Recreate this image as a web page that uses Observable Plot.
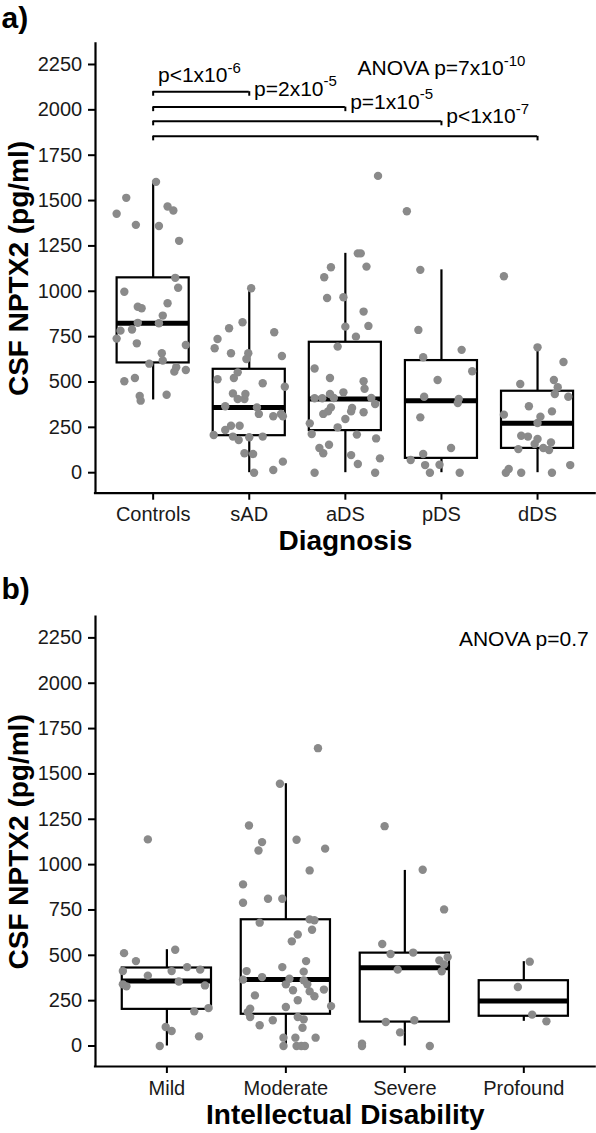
<!DOCTYPE html>
<html>
<head>
<meta charset="utf-8">
<script src="https://cdn.jsdelivr.net/npm/d3@7"></script>
<script src="https://cdn.jsdelivr.net/npm/@observablehq/plot@0.6"></script>
<style>
  body { margin: 0; background: #fff; }
  #chart { width: 596px; }
  #chart svg { display: block; }
</style>
</head>
<body>
<div id="chart"></div>
<script>
// ---------- data ----------
const diagnosisCategories = ["Controls", "sAD", "aDS", "pDS", "dDS"];
const disabilityCategories = ["Mild", "Moderate", "Severe", "Profound"];
const yTicks = [0, 250, 500, 750, 1000, 1250, 1500, 1750, 2000, 2250];

// individual points (value) and horizontal jitter (in category units)
const controlsValues = [1603,1515,1427,1366,1360,1467,1445,1278,1074,1019,997,934,915,906,866,826,824,783,789,739,713,704,658,618,601,581,557,566,504,522,423,397,430];
const controlsJitter = [0.03,-0.28,-0.38,-0.18,0.06,0.15,0.21,0.27,0.23,0.26,-0.30,0.15,-0.16,-0.12,0.10,-0.16,0.06,-0.34,-0.22,-0.38,-0.17,0.34,0.09,0.10,-0.04,0.24,0.22,0.34,-0.30,-0.19,-0.14,-0.13,0.14];
const sADValues = [1017,796,829,737,686,774,658,658,627,643,515,553,522,493,474,437,406,406,434,366,360,324,311,324,311,259,259,235,208,199,180,195,199,107,103,61,15,0];
const sADJitter = [0.02,-0.21,-0.07,-0.33,-0.36,0.26,-0.19,-0.01,-0.03,0.34,-0.33,-0.12,-0.16,0.14,0.37,-0.17,-0.12,-0.05,-0.04,-0.25,0.08,0.10,0.25,0.33,0.35,-0.19,-0.10,-0.25,-0.37,-0.17,-0.11,0.00,0.14,-0.05,0.04,0.35,0.25,0.05];
const aDSValues = [1636,1209,1209,1132,1136,1077,963,967,888,805,809,750,695,574,522,504,463,410,410,434,412,443,412,379,360,357,338,333,338,324,296,250,272,213,210,189,154,136,107,97,79,48,0,0];
const aDSJitter = [0.34,0.13,0.16,-0.15,0.22,-0.22,-0.19,-0.02,0.19,0.00,0.24,0.11,-0.08,-0.32,-0.16,0.19,0.20,-0.32,-0.24,-0.16,-0.12,-0.02,0.27,0.31,-0.15,0.07,0.06,0.19,-0.18,-0.23,0.00,-0.08,-0.37,-0.35,0.12,0.32,-0.17,-0.27,-0.23,0.06,0.36,0.13,-0.32,0.31];
const pDSValues = [1441,1118,787,677,636,559,511,419,406,384,305,136,103,70,42,44,0,0];
const pDSJitter = [-0.36,-0.22,-0.24,0.21,-0.19,0.32,-0.04,-0.18,0.18,0.17,-0.22,0.10,-0.19,-0.32,-0.17,-0.02,-0.12,0.19];
const dDSValues = [1083,691,610,489,511,471,434,419,366,338,320,309,274,204,199,186,158,167,136,125,130,42,0,20,0,0];
const dDSJitter = [-0.35,0.00,0.27,-0.18,0.17,0.21,0.18,0.32,-0.09,0.15,-0.35,0.03,0.00,-0.17,-0.10,0.00,-0.03,0.14,0.06,0.12,-0.20,0.34,-0.33,-0.30,-0.17,0.15];

const mildValues = [1139,512,468,531,413,388,413,435,421,356,340,329,334,209,191,105,83,53,0];
const mildJitter = [-0.16,-0.36,-0.26,0.07,-0.37,-0.16,0.04,0.17,0.28,0.10,-0.37,-0.34,0.32,0.35,0.23,-0.01,0.04,0.27,-0.06];
const moderateValues = [1642,1446,1216,1124,1078,1137,1088,968,891,790,812,812,680,698,693,641,615,577,468,435,413,410,366,380,371,340,362,340,307,301,274,311,279,252,215,220,206,187,160,142,114,160,147,101,46,46,46,0,0,0,0];
const moderateJitter = [0.27,-0.05,-0.31,-0.20,-0.23,0.09,0.33,0.20,-0.36,-0.36,-0.15,-0.03,-0.22,0.20,0.24,0.22,0.10,0.05,0.17,-0.03,-0.33,0.15,-0.36,-0.20,0.03,0.00,0.15,0.18,0.06,0.20,0.24,0.32,-0.26,0.10,0.00,0.38,-0.30,-0.32,-0.30,-0.11,-0.22,0.10,0.15,0.14,-0.02,0.08,0.25,-0.02,0.09,0.13,0.16];
const severeValues = [1212,972,753,562,507,515,490,472,450,412,421,132,142,75,13,0,0];
const severeJitter = [-0.17,0.15,0.33,-0.19,-0.12,0.07,0.36,0.29,0.33,0.31,-0.06,-0.16,0.08,-0.04,-0.36,-0.36,0.21];
const profoundValues = [465,325,173,136];
const profoundJitter = [0.05,-0.05,0.07,0.19];

// box-plot summaries (whisker low, Q1, median, Q3, whisker high)
const diagnosisLow = [401, 0, 0, 0, 0];
const diagnosisQ1 = [605, 204, 232, 79, 134];
const diagnosisMedian = [824, 360, 406, 397, 272];
const diagnosisQ3 = [1074, 570, 719, 618, 449];
const diagnosisHigh = [1603, 1017, 1209, 1118, 691];

const disabilityLow = [0, 0, 0, 136];
const disabilityQ1 = [202, 175, 132, 164];
const disabilityMedian = [358, 366, 432, 248];
const disabilityQ3 = [430, 696, 512, 360];
const disabilityHigh = [531, 1446, 968, 465];

// pairwise comparison brackets (panel a)
const bracketFrom = ["Controls", "Controls", "Controls", "Controls"];
const bracketTo = ["sAD", "aDS", "pDS", "dDS"];
const bracketY = [2100, 2015, 1937, 1854];
const bracketLabels = ["p<1x10^-6", "p=2x10^-5", "p=1x10^-5", "p<1x10^-7"];
const bracketLabelX = [1.05, 2.05, 3.05, 4.05];
const bracketLabelY = [2152, 2079, 2006, 1926];

const anovaLabels = ["ANOVA p=7x10^-10", "ANOVA p=0.7"];
const anovaX = [4, 4];
const anovaY = [2190, 2205];

const panelTags = ["a)", "b)"];
const xTitles = ["Diagnosis", "Intellectual Disability"];
const yTitle = "CSF NPTX2 (pg/ml)";

// ---------- helpers ----------
const FONT = "'Liberation Sans', Arial, Helvetica, sans-serif";
const TIP = 25;

function pointTable(cats, values, jitters) {
  return cats.flatMap((c, i) => values[i].map((v, j) => ({cat: c, pos: i + 1 + jitters[i][j], value: v})));
}
function boxTable(cats, lo, q1, med, q3, hi) {
  return cats.map((c, i) => ({cat: c, pos: i + 1, x1: i + 1 - 0.375, x2: i + 1 + 0.375,
    lo: lo[i], q1: q1[i], med: med[i], q3: q3[i], hi: hi[i]}));
}

function panel({cats, points, boxes, tag, xTitle, height, marginTop, marginBottom, tagDy, extra}) {
  const n = cats.length;
  return Plot.plot({
    width: 596,
    height,
    marginTop,
    marginBottom,
    marginLeft: 95,
    marginRight: 1.3,
    style: {fontFamily: FONT, fontSize: "20px", color: "#1a1a1a", background: "white", overflow: "visible"},
    x: {domain: [0.4, n + 0.6], axis: null},
    y: {domain: [-113, 2364], axis: null},
    marks: [
      Plot.axisY({ticks: yTicks, tickFormat: d => String(d), tickSize: 7, tickPadding: 6.3,
        strokeWidth: 2, stroke: "#000", fill: "#1a1a1a", fontSize: 20, label: null}),
      Plot.axisX({ticks: d3.range(1, n + 1), tickFormat: i => cats[i - 1], tickSize: 7, tickPadding: 6.8,
        strokeWidth: 2, stroke: "#000", fill: "#1a1a1a", fontSize: 20, label: null}),
      Plot.ruleX([0.4], {stroke: "#000", strokeWidth: 2.2, strokeLinecap: "square"}),
      Plot.ruleY([-113], {stroke: "#000", strokeWidth: 2.2, strokeLinecap: "square"}),
      // whiskers
      Plot.ruleX(boxes, {x: "pos", y1: "lo", y2: "q1", stroke: "#000", strokeWidth: 2.2}),
      Plot.ruleX(boxes, {x: "pos", y1: "q3", y2: "hi", stroke: "#000", strokeWidth: 2.2}),
      // boxes
      Plot.rect(boxes, {x1: "x1", x2: "x2", y1: "q1", y2: "q3", fill: "white", stroke: "#000", strokeWidth: 2.2}),
      Plot.ruleY(boxes, {y: "med", x1: "x1", x2: "x2", stroke: "#000", strokeWidth: 5}),
      // jittered points
      Plot.dot(points, {x: "pos", y: "value", r: 4.2, fill: "#8a8a8a", stroke: "none"}),
      ...extra,
      // titles
      Plot.text([tag], {frameAnchor: "top-left", dx: -94, dy: tagDy, textAnchor: "start", lineAnchor: "bottom",
        fontSize: 30, fontWeight: "bold", fill: "#000"}),
      Plot.text([xTitle], {frameAnchor: "bottom", dy: 57, textAnchor: "middle", lineAnchor: "bottom",
        fontSize: 28, fontWeight: "bold", fill: "#000"}),
      Plot.text([yTitle], {frameAnchor: "left", dx: -67.5, rotate: -90, textAnchor: "middle", lineAnchor: "bottom",
        fontSize: 28, fontWeight: "bold", fill: "#000"})
    ]
  });
}

// ---------- panel a ----------
const diagPoints = pointTable(diagnosisCategories,
  [controlsValues, sADValues, aDSValues, pDSValues, dDSValues],
  [controlsJitter, sADJitter, aDSJitter, pDSJitter, dDSJitter]);
const diagBoxes = boxTable(diagnosisCategories, diagnosisLow, diagnosisQ1, diagnosisMedian, diagnosisQ3, diagnosisHigh);
const brackets = bracketTo.map((to, i) => ({
  x1: diagnosisCategories.indexOf(bracketFrom[i]) + 1,
  x2: diagnosisCategories.indexOf(to) + 1,
  y: bracketY[i], yTip: bracketY[i] - TIP,
  label: bracketLabels[i], lx: bracketLabelX[i], ly: bracketLabelY[i]
}));
const tips = brackets.flatMap(b => [{x: b.x1, y: b.y, yTip: b.yTip}, {x: b.x2, y: b.y, yTip: b.yTip}]);

const panelA = panel({
  cats: diagnosisCategories, points: diagPoints, boxes: diagBoxes,
  tag: panelTags[0], xTitle: xTitles[0],
  height: 572, marginTop: 43.3, marginBottom: 79.3, tagDy: -16.3,
  extra: [
    Plot.ruleY(brackets, {y: "y", x1: "x1", x2: "x2", stroke: "#000", strokeWidth: 2}),
    Plot.ruleX(tips, {x: "x", y1: "y", y2: "yTip", stroke: "#000", strokeWidth: 2}),
    Plot.text(brackets, {x: "lx", y: "ly", text: "label", textAnchor: "start", lineAnchor: "bottom", fontSize: 21, fill: "#000"}),
    Plot.text([{x: anovaX[0], y: anovaY[0], label: anovaLabels[0]}], {x: "x", y: "y", text: "label", textAnchor: "middle", lineAnchor: "bottom", fontSize: 21, fill: "#000"})
  ]
});

// ---------- panel b ----------
const disPoints = pointTable(disabilityCategories,
  [mildValues, moderateValues, severeValues, profoundValues],
  [mildJitter, moderateJitter, severeJitter, profoundJitter]);
const disBoxes = boxTable(disabilityCategories, disabilityLow, disabilityQ1, disabilityMedian, disabilityQ3, disabilityHigh);

const panelB = panel({
  cats: disabilityCategories, points: disPoints, boxes: disBoxes,
  tag: panelTags[1], xTitle: xTitles[1],
  height: 561, marginTop: 44.7, marginBottom: 67, tagDy: -18.7,
  extra: [
    Plot.text([{x: anovaX[1], y: anovaY[1], label: anovaLabels[1]}], {x: "x", y: "y", text: "label", textAnchor: "middle", lineAnchor: "bottom", fontSize: 21, fill: "#000"})
  ]
});

const root = document.getElementById("chart");
root.append(panelA, panelB);

// render "^" exponents as superscripts
const NS = "http://www.w3.org/2000/svg";
root.querySelectorAll("text").forEach(el => {
  const t = el.textContent;
  const k = t.indexOf("^");
  if (k < 0) return;
  el.textContent = "";
  const base = document.createElementNS(NS, "tspan");
  base.textContent = t.slice(0, k);
  const sup = document.createElementNS(NS, "tspan");
  sup.textContent = t.slice(k + 1);
  sup.setAttribute("font-size", "15");
  sup.setAttribute("dy", "-9.5");
  el.append(base, sup);
});
</script>
</body>
</html>
